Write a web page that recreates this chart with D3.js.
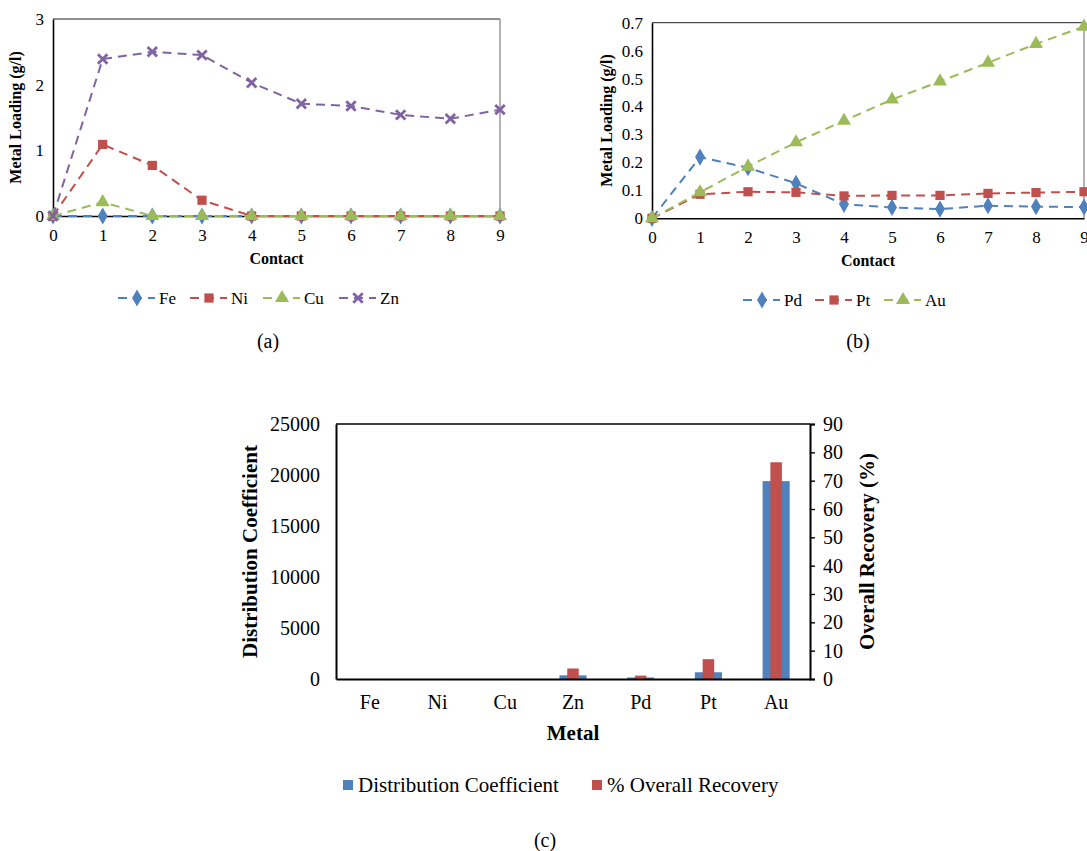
<!DOCTYPE html>
<html>
<head>
<meta charset="utf-8">
<script src="https://cdn.jsdelivr.net/npm/d3@7"></script>
<style>
  html, body { margin: 0; padding: 0; background: #fff; }
  svg { display: block; }
  svg text { font-family: "Liberation Serif", "DejaVu Serif", serif !important; }
</style>
</head>
<body>
<svg id="fig" width="1087" height="851"></svg>
<script>
// ---- data ----
const contacts = [0, 1, 2, 3, 4, 5, 6, 7, 8, 9];

// (a) base metals, metal loading (g/l)
const fe = [0, 0, 0, 0, 0, 0, 0, 0, 0, 0];
const ni = [0, 1.09, 0.77, 0.24, 0, 0, 0, 0, 0, 0];
const cu = [0, 0.21, 0, 0, 0, 0, 0, 0, 0, 0];
const zn = [0, 2.39, 2.50, 2.45, 2.03, 1.71, 1.675, 1.54, 1.48, 1.62];
const ticksA = [0, 1, 2, 3];

// (b) precious metals, metal loading (g/l)
const pd = [0, 0.219, 0.181, 0.125, 0.050, 0.039, 0.033, 0.045, 0.042, 0.040];
const pt = [0, 0.086, 0.095, 0.093, 0.080, 0.082, 0.082, 0.089, 0.092, 0.095];
const au = [0, 0.093, 0.185, 0.272, 0.349, 0.425, 0.490, 0.557, 0.624, 0.686];
const ticksB = [0, 0.1, 0.2, 0.3, 0.4, 0.5, 0.6, 0.7];

// (c) distribution coefficient and overall recovery per metal
const metals = ["Fe", "Ni", "Cu", "Zn", "Pd", "Pt", "Au"];
const distCoef = [0, 0, 0, 360, 150, 660, 19400];
const recovery = [0, 0, 0, 3.7, 1.2, 7.0, 76.5];
const ticksCLeft = [0, 5000, 10000, 15000, 20000, 25000];
const ticksCRight = [0, 10, 20, 30, 40, 50, 60, 70, 80, 90];

const BLUE = "#4F81BD", RED = "#C0504D", GREEN = "#9BBB59", PURPLE = "#8064A2";

const svg = d3.select("#fig");

function marker(g, kind, color) {
  if (kind === "diamond") {
    g.append("path").attr("d", d3.symbol(d3.symbolDiamond, 85)()).attr("fill", color);
  } else if (kind === "square") {
    g.append("path").attr("d", d3.symbol(d3.symbolSquare, 85)()).attr("fill", color);
  } else if (kind === "triangle") {
    g.append("path").attr("d", d3.symbol(d3.symbolTriangle, 85)()).attr("fill", color);
  } else if (kind === "x") {
    g.append("path").attr("d", d3.symbol(d3.symbolX, 60)())
      .attr("fill", "none").attr("stroke", color).attr("stroke-width", 2.8);
  }
}

function lineChart(opts) {
  const { left, right, top, bottom, yMax, yTicks, yFmt, series, legendY, legendX, title, titleOffset } = opts;
  const x = d3.scaleLinear().domain([0, 9]).range([left, right]);
  const y = d3.scaleLinear().domain([0, yMax]).range([bottom, top]);
  const g = svg.append("g");

  // frame
  g.append("line").attr("x1", left).attr("x2", right).attr("y1", top).attr("y2", top)
    .attr("stroke", "#222").attr("stroke-width", 1);
  g.append("line").attr("x1", right).attr("x2", right).attr("y1", top).attr("y2", bottom)
    .attr("stroke", "#666").attr("stroke-width", 1);

  // axes
  const yAxis = d3.axisLeft(y).tickValues(yTicks).tickSize(0).tickPadding(9).tickFormat(yFmt);
  const ya = g.append("g").attr("transform", `translate(${left},0)`).call(yAxis);
  const xAxis = d3.axisBottom(x).tickValues(contacts).tickSize(0).tickPadding(13);
  const xa = g.append("g").attr("transform", `translate(0,${bottom})`).call(xAxis);
  [ya, xa].forEach(a => {
    a.select(".domain").attr("stroke", "#000").attr("stroke-width", 1.6);
    a.selectAll("text").attr("font-size", 17).attr("fill", "#000");
  });

  // titles
  g.append("text").attr("x", (left + right) / 2).attr("y", bottom + 48)
    .attr("text-anchor", "middle").attr("font-weight", "bold").attr("font-size", 16)
    .text("Contact");
  g.append("text")
    .attr("transform", `translate(${left - titleOffset},${(top + bottom) / 2}) rotate(-90)`)
    .attr("text-anchor", "middle").attr("font-weight", "bold").attr("font-size", 16)
    .text("Metal Loading (g/l)");

  // series
  const line = d3.line().x((d, i) => x(contacts[i])).y(d => y(d));
  series.forEach(s => {
    g.append("path").datum(s.values).attr("d", line)
      .attr("fill", "none").attr("stroke", s.color).attr("stroke-width", 2)
      .attr("stroke-dasharray", "9,6");
    s.values.forEach((v, i) => {
      const m = g.append("g").attr("transform", `translate(${x(contacts[i])},${y(v)})`);
      marker(m, s.marker, s.color);
    });
  });

  // legend
  series.forEach((s, i) => {
    const lx = legendX[i];
    const lg = g.append("g").attr("transform", `translate(${lx},${legendY})`);
    lg.append("line").attr("x1", 0).attr("x2", 37).attr("y1", 0).attr("y2", 0)
      .attr("stroke", s.color).attr("stroke-width", 2).attr("stroke-dasharray", "9,6");
    const m = lg.append("g").attr("transform", "translate(19,0)");
    marker(m, s.marker, s.color);
    lg.append("text").attr("x", 41).attr("y", 6).attr("font-size", 17).text(s.name);
  });

  g.append("text").attr("x", title.x).attr("y", title.y).attr("text-anchor", "middle")
    .attr("font-size", 20).text(title.text);
}

lineChart({
  left: 53, right: 500, top: 19, bottom: 216, yMax: 3, yTicks: ticksA,
  yFmt: d3.format("d"), titleOffset: 32,
  series: [
    { name: "Fe", values: fe, color: BLUE, marker: "diamond" },
    { name: "Ni", values: ni, color: RED, marker: "square" },
    { name: "Cu", values: cu, color: GREEN, marker: "triangle" },
    { name: "Zn", values: zn, color: PURPLE, marker: "x" }
  ],
  legendY: 298, legendX: [118, 190, 263, 339],
  title: { x: 268, y: 348, text: "(a)" }
});

lineChart({
  left: 652, right: 1084, top: 22.7, bottom: 218.3, yMax: 0.7, yTicks: ticksB,
  yFmt: d => d === 0 ? "0" : d3.format(".1f")(d), titleOffset: 40,
  series: [
    { name: "Pd", values: pd, color: BLUE, marker: "diamond" },
    { name: "Pt", values: pt, color: RED, marker: "square" },
    { name: "Au", values: au, color: GREEN, marker: "triangle" }
  ],
  legendY: 300, legendX: [743, 815, 884],
  title: { x: 858, y: 348, text: "(b)" }
});

// ---- (c) bar chart with two y axes ----
(function () {
  const left = 336, right = 810, top = 424, bottom = 679;
  const x = d3.scaleBand().domain(metals).range([left, right]);
  const yL = d3.scaleLinear().domain([0, 25000]).range([bottom, top]);
  const yR = d3.scaleLinear().domain([0, 90]).range([bottom, top]);
  const g = svg.append("g");

  g.append("line").attr("x1", left).attr("x2", right).attr("y1", top).attr("y2", top)
    .attr("stroke", "#000").attr("stroke-width", 1.4);

  const bw = x.bandwidth() * 0.4;
  const rw = x.bandwidth() * 0.17;
  g.selectAll("rect.dc").data(metals).join("rect").attr("class", "dc")
    .attr("x", m => x(m) + (x.bandwidth() - bw) / 2)
    .attr("width", bw)
    .attr("y", (m, i) => yL(distCoef[i]))
    .attr("height", (m, i) => bottom - yL(distCoef[i]))
    .attr("fill", BLUE);
  g.selectAll("rect.rec").data(metals).join("rect").attr("class", "rec")
    .attr("x", m => x(m) + (x.bandwidth() - rw) / 2)
    .attr("width", rw)
    .attr("y", (m, i) => yR(recovery[i]))
    .attr("height", (m, i) => bottom - yR(recovery[i]))
    .attr("fill", RED);

  const la = g.append("g").attr("transform", `translate(${left},0)`)
    .call(d3.axisLeft(yL).tickValues(ticksCLeft).tickSize(0).tickPadding(16).tickFormat(d3.format("d")));
  const ra = g.append("g").attr("transform", `translate(${right},0)`)
    .call(d3.axisRight(yR).tickValues(ticksCRight).tickSize(5).tickPadding(8));
  const ba = g.append("g").attr("transform", `translate(0,${bottom})`)
    .call(d3.axisBottom(x).tickSize(0).tickPadding(16));
  [la, ra, ba].forEach(a => {
    a.select(".domain").attr("stroke", "#000").attr("stroke-width", 2);
    a.selectAll(".tick line").attr("stroke", "#000").attr("stroke-width", 1.4);
    a.selectAll("text").attr("font-size", 20).attr("fill", "#000");
  });

  g.append("text").attr("x", (left + right) / 2).attr("y", bottom + 61)
    .attr("text-anchor", "middle").attr("font-weight", "bold").attr("font-size", 21)
    .text("Metal");
  g.append("text")
    .attr("transform", `translate(${left - 79},${(top + bottom) / 2}) rotate(-90)`)
    .attr("text-anchor", "middle").attr("font-weight", "bold").attr("font-size", 21)
    .text("Distribution Coefficient");
  g.append("text")
    .attr("transform", `translate(${right + 64},${(top + bottom) / 2}) rotate(-90)`)
    .attr("text-anchor", "middle").attr("font-weight", "bold").attr("font-size", 21)
    .text("Overall Recovery (%)");

  // legend
  const legend = [
    { name: "Distribution Coefficient", color: BLUE, x: 343 },
    { name: "% Overall Recovery", color: RED, x: 592 }
  ];
  legend.forEach(l => {
    g.append("rect").attr("x", l.x).attr("y", 780).attr("width", 10).attr("height", 10).attr("fill", l.color);
    g.append("text").attr("x", l.x + 15).attr("y", 792).attr("font-size", 21).text(l.name);
  });

  g.append("text").attr("x", 545).attr("y", 847).attr("text-anchor", "middle")
    .attr("font-size", 20).text("(c)");
})();
</script>
</body>
</html>
